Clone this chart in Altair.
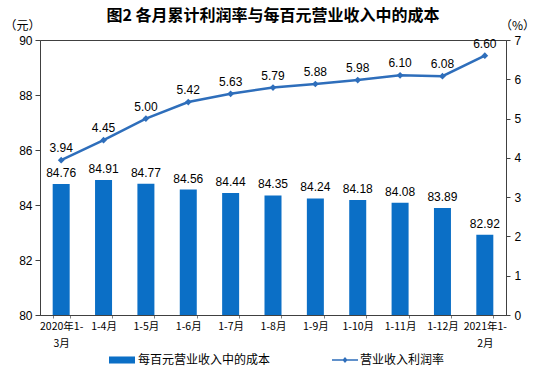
import altair as alt
import pandas as pd

categories = ["2020年1-\n3月", "1-4月", "1-5月", "1-6月", "1-7月", "1-8月",
              "1-9月", "1-10月", "1-11月", "1-12月", "2021年1-\n2月"]
cost = [84.76, 84.91, 84.77, 84.56, 84.44, 84.35, 84.24, 84.18, 84.08, 83.89, 82.92]
margin = [3.94, 4.45, 5.00, 5.42, 5.63, 5.79, 5.88, 5.98, 6.10, 6.08, 6.60]
bar_name = "每百元营业收入中的成本"
line_name = "营业收入利润率"
title_text = "图2 各月累计利润率与每百元营业收入中的成本"

df = pd.DataFrame({
    "cat": categories,
    "cost": cost,
    "margin": margin,
    "bar_s": [bar_name] * len(categories),
    "line_s": [line_name] * len(categories),
})

FONT = "Liberation Sans, Noto Sans CJK SC"
CJK = "Noto Sans CJK SC"
BAR_COLOR = "#0B6FC6"
LINE_COLOR = "#2E6EBB"

x = alt.X("cat:N", sort=categories,
          scale=alt.Scale(paddingInner=0.6, paddingOuter=0.3),
          axis=alt.Axis(title=None, labelAngle=0, labelFont=CJK, labelFontSize=10.5,
                        labelExpr="split(datum.label, '\\n')", labelLineHeight=17,
                        labelPadding=3, tickBand="extent", tickSize=3,
                        domainColor="#404040", tickColor="#808080"))

y_left = alt.Y("cost:Q", scale=alt.Scale(domain=[80, 90], zero=False, nice=False),
               axis=alt.Axis(title="（元）", titleAngle=0, titleX=-18, titleY=-15,
                             titleAlign="center", titleBaseline="middle",
                             titleFont=CJK, titleFontSize=12, titleFontWeight="normal",
                             values=[80, 82, 84, 86, 88, 90], labelFontSize=12,
                             labelFont=FONT, tickSize=5, labelPadding=3,
                             labelOverlap=False,
                             domainColor="#404040", tickColor="#404040", grid=False))

y_right = alt.Y("margin:Q", scale=alt.Scale(domain=[0, 7], nice=False),
                axis=alt.Axis(title="（%）", orient="right", titleAngle=0, titleX=11, titleY=-15,
                              titleAlign="center", titleBaseline="middle",
                              titleFont=CJK, titleFontSize=12, titleFontWeight="normal",
                              values=[0, 1, 2, 3, 4, 5, 6, 7], labelFontSize=12,
                              labelFont=FONT, tickSize=4, labelPadding=4,
                              labelOverlap=False,
                              domainColor="#404040", tickColor="#404040", grid=False))

bar_path = "M-1,-0.27H1V0.27H-1Z"
line_path = "M-1,-0.05H1V0.05H-1Z M0,-0.24L0.2,0L0,0.24L-0.2,0Z"

bars = alt.Chart(df).mark_bar(size=17).encode(
    x=x,
    y=y_left,
    y2=alt.datum(80),
    color=alt.Color("bar_s:N", scale=alt.Scale(range=[BAR_COLOR]),
                    legend=alt.Legend(title=None, orient="none", legendX=69, legendY=307,
                                      symbolType=bar_path, symbolSize=676,
                                      symbolStrokeWidth=0, labelFont=CJK, labelFontSize=12,
                                      labelOffset=3, padding=0)),
)
bar_text = alt.Chart(df).mark_text(baseline="alphabetic", dy=-7, fontSize=12,
                                   font=FONT, color="black").encode(
    x=x, y=y_left,
    text=alt.Text("cost:Q", format=".2f"))

line = alt.Chart(df).mark_line(strokeWidth=2.5,
                               point=alt.OverlayMarkDef(shape="diamond", size=45, filled=True,
                                                        color=LINE_COLOR)).encode(
    x=x,
    y=y_right,
    color=alt.Color("line_s:N", scale=alt.Scale(range=[LINE_COLOR]),
                    legend=alt.Legend(title=None, orient="none", legendX=292, legendY=307,
                                      symbolType=line_path, symbolSize=676,
                                      symbolStrokeWidth=0, symbolFillColor=LINE_COLOR,
                                      labelFont=CJK, labelFontSize=12,
                                      labelOffset=2, padding=0)),
)
line_text = alt.Chart(df).mark_text(baseline="alphabetic", dy=-8, fontSize=12,
                                    font=FONT, color="black").encode(
    x=x, y=y_right,
    text=alt.Text("margin:Q", format=".2f"))

left = alt.layer(bars, bar_text)
right = alt.layer(line, line_text)

chart = alt.layer(left, right).resolve_scale(
    y="independent", color="independent"
).properties(
    width=466, height=275,
    autosize=alt.AutoSizeParams(type="none"),
    padding={"left": 40, "top": 40, "right": 30, "bottom": 63},
    title=alt.TitleParams(title_text, font=CJK, fontSize=16, fontWeight="bold",
                          anchor="middle", frame="group", color="black", offset=4, dy=9),
    background="white",
).configure_view(stroke="#404040", strokeWidth=1)

chart.save("out.html", embed_options={"renderer": "svg", "actions": False})
